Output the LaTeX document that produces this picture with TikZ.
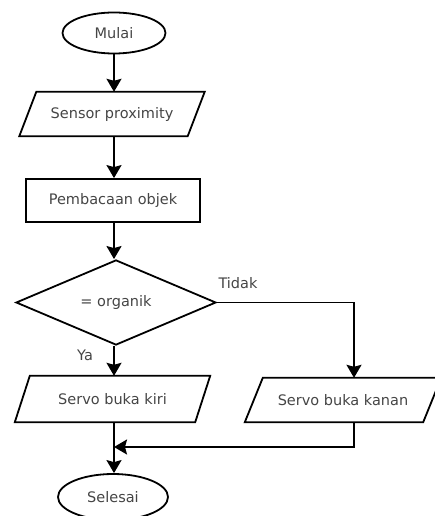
\documentclass[tikz,border=0pt]{standalone}
\usepackage{fontspec}
\setmainfont{DejaVu Sans}
\usetikzlibrary{shapes.geometric,arrows.meta}
\definecolor{txt}{HTML}{454545}
\tikzset{
  line/.style={line width=1.8pt, black},
  flow/.style={line, -{Stealth[length=13pt,width=15pt,inset=2pt]}},
  base/.style={inner sep=0pt, text=txt, font=\fontsize{14.5}{17}\selectfont},
  term/.style={base, ellipse, draw, line width=1.8pt},
  proc/.style={base, rectangle, draw, line width=1.8pt},
  iobox/.style={base, rectangle},
  decide/.style={base, diamond, draw, line width=1.8pt},
  lbl/.style={base},
}
% outline of an input/output parallelogram around a text node
\newcommand{\slantbox}[2]{%
  \draw[line, line join=miter] ([xshift=-#2]#1.south west) -- ([xshift=-#2]#1.south east)
    -- ([xshift=#2]#1.north east) -- ([xshift=#2]#1.north west) -- cycle;}
\begin{document}
\begin{tikzpicture}[x=1pt,y=-1pt]
  \useasboundingbox (0,0) rectangle (435,516);

  \node[term, minimum width=103pt, minimum height=41pt] (start) at (114,33) {Mulai};
  \node[iobox, minimum width=168pt, minimum height=44pt] (sensor) at (112,114) {Sensor proximity};
  \slantbox{sensor}{8.5pt}
  \node[proc, minimum width=174pt, minimum height=43pt] (read) at (113,200.5) {Pembacaan objek};
  \node[decide, minimum width=200pt, minimum height=72pt] (check) at (116,302.5) {= organik};
  \node[iobox, minimum width=180pt, minimum height=46pt] (left) at (112.5,399) {Servo buka kiri};
  \slantbox{left}{7.5pt}
  \node[iobox, minimum width=178pt, minimum height=44pt] (right) at (343,400) {Servo buka kanan};
  \slantbox{right}{9pt}
  \node[term, minimum width=110pt, minimum height=46pt] (stop) at (113,497) {Selesai};

  \node[lbl] (no) at (238,283) {Tidak};
  \node[lbl] (yes) at (85,355) {Ya};

  \coordinate (join) at (114,447);
  \coordinate (rx) at (354,0);

  \draw[flow] (114,0 |- start.south) -- (114,0 |- sensor.north);
  \draw[flow] (114,0 |- sensor.south) -- (114,0 |- read.north);
  \draw[flow] (114,0 |- read.south) -- (114,0 |- check.north);
  \draw[flow] (114,0 |- check.south) -- (114,0 |- left.north);
  \draw[flow] (check.east) -| (rx |- right.north);
  \draw[line] (114,0 |- left.south) -- (join);
  \draw[flow] (rx |- right.south) |- (join);
  \draw[flow] (join) -- (114,0 |- stop.north);
\end{tikzpicture}
\end{document}
